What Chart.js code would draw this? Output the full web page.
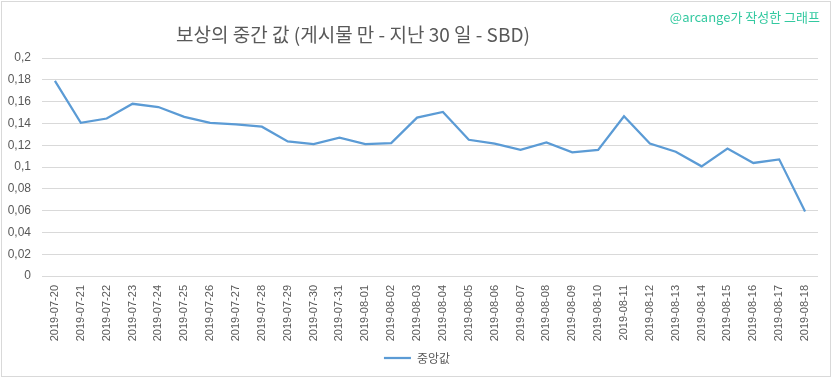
<!DOCTYPE html>
<html>
<head>
<meta charset="utf-8">
<script src="https://cdn.jsdelivr.net/npm/chart.js@4/dist/chart.umd.min.js"></script>
<style>
  html, body { margin: 0; padding: 0; background: #fff; }
  #wrap { width: 833px; height: 378px; }
</style>
</head>
<body>
<div id="wrap"><canvas id="grafico" width="833" height="378"></canvas></div>
<script>
const chartTitle = '보상의 중간 값 (게시물 만 - 지난 30 일 - SBD)';
const watermark = '@arcange가 작성한 그래프';
const seriesName = '중앙값';

const dates = [
  '2019-07-20', '2019-07-21', '2019-07-22', '2019-07-23', '2019-07-24', '2019-07-25',
  '2019-07-26', '2019-07-27', '2019-07-28', '2019-07-29', '2019-07-30', '2019-07-31',
  '2019-08-01', '2019-08-02', '2019-08-03', '2019-08-04', '2019-08-05', '2019-08-06',
  '2019-08-07', '2019-08-08', '2019-08-09', '2019-08-10', '2019-08-11', '2019-08-12',
  '2019-08-13', '2019-08-14', '2019-08-15', '2019-08-16', '2019-08-17', '2019-08-18'
];
const medianValues = [
  0.179, 0.1405, 0.1445, 0.158, 0.155, 0.146,
  0.1405, 0.139, 0.137, 0.1235, 0.121, 0.127,
  0.121, 0.122, 0.1453, 0.1505, 0.125, 0.1215,
  0.1157, 0.1225, 0.1135, 0.1157, 0.1466, 0.1216,
  0.114, 0.1006, 0.117, 0.1037, 0.107, 0.0592
];
const yMin = 0;
const yMax = 0.2;
const yStep = 0.02;

const krFont = '"Noto Sans CJK KR", "Noto Sans", sans-serif';

// marco, título y marca de agua
const decoraciones = {
    id: 'decoraciones',
    afterLayout(chart) {
        // la leyenda va un poco más a la derecha
        chart.legend.left += 8;
        chart.legend.right += 8;
    },
    beforeDraw(chart) {
        const c = chart.ctx;
        c.save();
        c.fillStyle = '#ffffff';
        c.fillRect(0, 0, chart.width, chart.height);
        c.restore();
    },
    afterDraw(chart) {
        const c = chart.ctx;
        c.save();
        c.strokeStyle = '#d9d9d9';
        c.lineWidth = 1;
        c.strokeRect(1.5, 1.5, 829, 375);
        c.fillStyle = '#595959';
        c.font = '19px ' + krFont;
        c.textAlign = 'center';
        c.textBaseline = 'middle';
        c.fillText(chartTitle, 353, 35);
        c.fillStyle = '#33c9a0';
        c.font = '13px ' + krFont;
        c.textAlign = 'right';
        c.fillText(watermark, 820, 17);
        c.restore();
    }
};

const ctx = document.getElementById('grafico').getContext('2d');
new Chart(ctx, {
    type: 'line',
    data: {
        labels: dates,
        datasets: [{
            label: seriesName,
            data: medianValues,
            borderColor: '#5b9bd5',
            backgroundColor: '#5b9bd5',
            borderWidth: 2.25,
            pointRadius: 0,
            tension: 0,
            fill: false
        }]
    },
    options: {
        responsive: false,
        animation: false,
        layout: { padding: { top: 58, right: 15, left: 0, bottom: 4 } },
        plugins: {
            title: { display: false },
            tooltip: { enabled: false },
            legend: {
                position: 'bottom',
                labels: {
                    usePointStyle: true,
                    pointStyle: 'line',
                    pointStyleWidth: 27,
                    color: '#595959',
                    font: { family: krFont, size: 12 },
                    padding: 10
                }
            }
        },
        scales: {
            x: {
                offset: true,
                grid: { display: false, drawTicks: false },
                border: { display: false },
                ticks: {
                    autoSkip: false,
                    maxRotation: 90,
                    minRotation: 90,
                    padding: 9,
                    color: '#595959',
                    font: { family: '"Liberation Sans", sans-serif', size: 11 }
                },
                afterFit: s => { s.height = 66; }
            },
            y: {
                min: yMin,
                max: yMax,
                grid: { color: '#d9d9d9', lineWidth: 1, drawTicks: false },
                border: { display: false },
                ticks: {
                    stepSize: yStep,
                    padding: 11,
                    color: '#595959',
                    font: { family: '"Liberation Sans", sans-serif', size: 12 },
                    callback: v => String(Math.round(v * 100) / 100).replace('.', ',')
                },
                afterFit: s => { s.width = 42; }
            }
        }
    },
    plugins: [decoraciones]
});
</script>
</body>
</html>
